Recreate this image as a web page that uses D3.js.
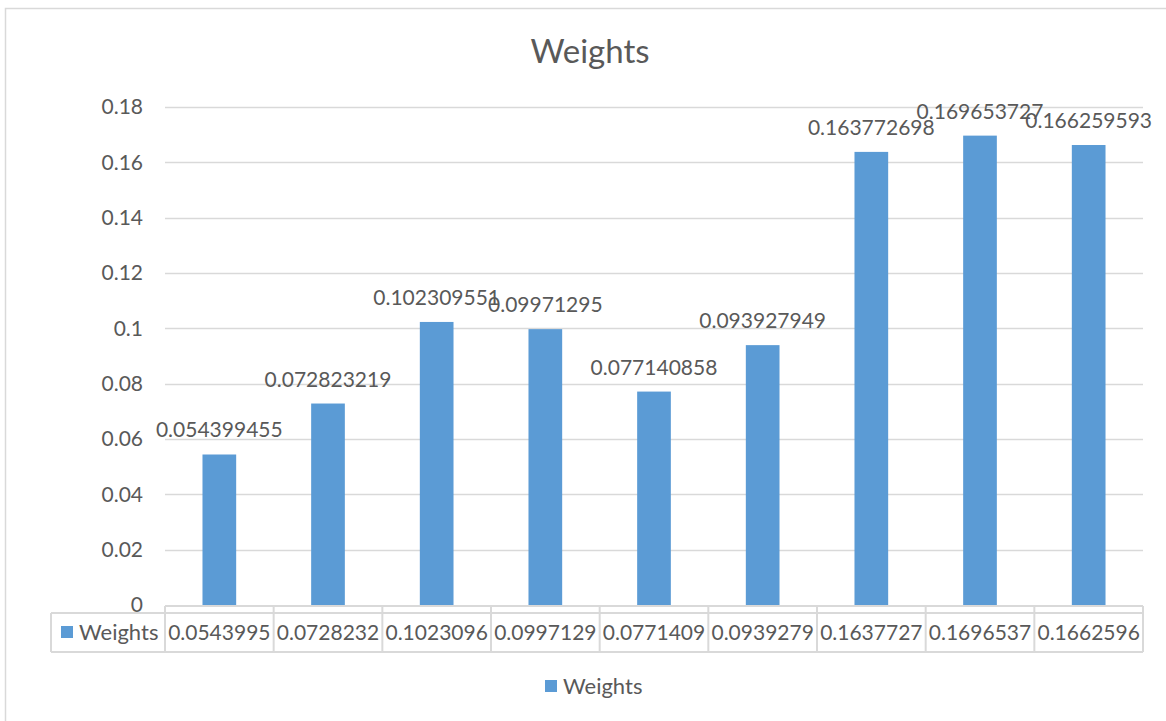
<!DOCTYPE html>
<html><head><meta charset="utf-8">
<script src="https://cdn.jsdelivr.net/npm/d3@7"></script>
<style>body{margin:0;background:#fff;} text{font-family:Lato,"Open Sans",sans-serif;fill:#595959;}</style>
</head><body>
<svg id="c" width="1166" height="721"></svg>
<script>
const categories = ["1","2","3","4","5","6","7","8","9"];
const values = [0.054399455,0.072823219,0.102309551,0.09971295,0.077140858,0.093927949,0.163772698,0.169653727,0.166259593];
const labels = ["0.054399455","0.072823219","0.102309551","0.09971295","0.077140858","0.093927949","0.163772698","0.169653727","0.166259593"];
const tableValues = ["0.0543995","0.0728232","0.1023096","0.0997129","0.0771409","0.0939279","0.1637727","0.1696537","0.1662596"];
const yTicks = [0,0.02,0.04,0.06,0.08,0.1,0.12,0.14,0.16,0.18];
const seriesName = "Weights";

const svg = d3.select("#c");
const grid = "#d9d9d9", barColor = "#5b9bd5";
const L = 165, R = 1143, T = 107, B = 605;

// outer border
svg.append("rect").attr("x",5.5).attr("y",8.5).attr("width",1200).attr("height",800)
  .attr("fill","none").attr("stroke",grid).attr("stroke-width",1.5);

const x = d3.scaleBand().domain(categories).range([L,R]).paddingInner(0.69).paddingOuter(0.345);
const xb = d3.scaleBand().domain(categories).range([L,R]);
const y = d3.scaleLinear().domain([0,0.18]).range([B,T]);

// gridlines
svg.append("g").selectAll("line").data(yTicks.filter(d=>d>0)).join("line")
  .attr("x1",L).attr("x2",R).attr("y1",d=>Math.round(y(d))+0.5).attr("y2",d=>Math.round(y(d))+0.5)
  .attr("stroke",grid).attr("stroke-width",1.5);

// y axis labels
const yAxis = d3.axisLeft(y).tickValues(yTicks).tickSize(0).tickPadding(0).tickFormat(d=>d3.format("")(+d.toFixed(2)));
const ya = svg.append("g").attr("transform",`translate(${143},0)`).call(yAxis);
ya.select(".domain").remove();
ya.selectAll("text").style("font-size","21px").attr("fill","#595959").style("font-family","Lato");

// bars
svg.append("g").selectAll("rect").data(values).join("rect")
  .attr("x",(d,i)=>x(categories[i])).attr("width",x.bandwidth())
  .attr("y",d=>y(d)).attr("height",d=>B-y(d)).attr("fill",barColor);

// data labels
svg.append("g").selectAll("text").data(values).join("text")
  .attr("x",(d,i)=>xb(categories[i])+xb.bandwidth()/2).attr("y",d=>y(d)-17)
  .attr("text-anchor","middle").style("font-size","21px").text((d,i)=>labels[i]);

// data table
const tg = svg.append("g").attr("stroke",grid).attr("stroke-width",2).attr("fill","none");
tg.append("line").attr("x1",L).attr("x2",R).attr("y1",606).attr("y2",606);
tg.append("line").attr("x1",51).attr("x2",R).attr("y1",613).attr("y2",613);
tg.append("line").attr("x1",51).attr("x2",R).attr("y1",652).attr("y2",652);
tg.append("line").attr("x1",51).attr("x2",51).attr("y1",613).attr("y2",652);
tg.selectAll(".v").data(categories.concat(["end"])).join("line")
  .attr("x1",(d,i)=>L+i*xb.bandwidth()).attr("x2",(d,i)=>L+i*xb.bandwidth())
  .attr("y1",606).attr("y2",652);

svg.append("g").selectAll("text").data(tableValues).join("text")
  .attr("x",(d,i)=>xb(categories[i])+xb.bandwidth()/2).attr("y",640)
  .attr("text-anchor","middle").style("font-size","21px").text(d=>d);

svg.append("rect").attr("x",61).attr("y",626).attr("width",12).attr("height",12).attr("fill",barColor);
svg.append("text").attr("x",79).attr("y",640).style("font-size","22px").text(seriesName);

// title
svg.append("text").attr("x",590).attr("y",63).attr("text-anchor","middle").style("font-size","33px").text("Weights");

// legend
svg.append("rect").attr("x",545).attr("y",680).attr("width",12).attr("height",12).attr("fill",barColor);
svg.append("text").attr("x",563).attr("y",694).style("font-size","22px").text(seriesName);
</script>
</body></html>
